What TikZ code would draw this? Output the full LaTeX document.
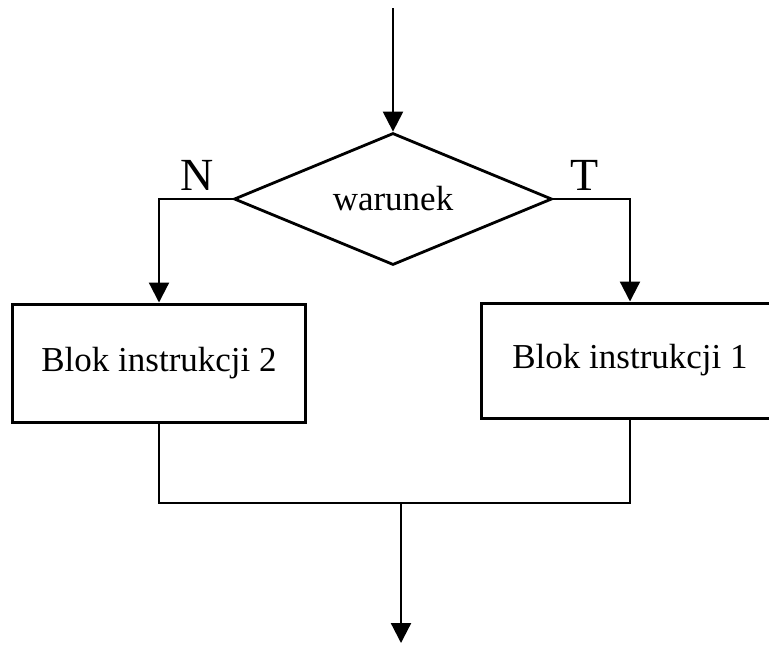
\documentclass[tikz,border=0pt]{standalone}
\usepackage{fontspec}
\setmainfont{Liberation Serif}
\usetikzlibrary{shapes.geometric,arrows.meta}

\begin{document}
\begin{tikzpicture}[x=0.5pt,y=-0.5pt,
		blok/.style={draw,line width=1.5pt,minimum height=59pt,inner sep=0pt,font=\fontsize{17.5}{20}\selectfont},
		decyzja/.style={draw,diamond,aspect=2.4,line width=1.4pt,inner sep=0pt,minimum width=159pt,minimum height=66pt,font=\fontsize{17.5}{20}\selectfont},
		etykieta/.style={anchor=base,inner sep=0pt,font=\fontsize{23}{26}\selectfont},
		linia/.style={line width=1.1pt},
		strzalka/.style={line width=1.1pt,-{Triangle[length=10pt,width=10pt]}}]
		\useasboundingbox (0,0) rectangle (769,645);

		\coordinate (start) at (393,8);
		\node[decyzja] (war) at (393,199) {warunek};
		\node[etykieta] (nie) at (197,190) {N};
		\node[etykieta] (tak) at (585,190) {T};

		\node[blok,minimum width=146.5pt] (blok2) at (159,363) {Blok instrukcji 2};
		\node[blok,minimum width=149pt,minimum height=57.5pt] (blok1) at (630,360.5) {Blok instrukcji 1};

		\coordinate (zbieg) at (401,503);
		\coordinate (koniec) at (401,643);

		\draw[strzalka] (start) -- (war.north);
		\draw[strzalka] (war.west) -| (blok2.north);
		\draw[strzalka] (war.east) -| (blok1.north);

		% polaczenie obu galezi
		\draw[linia] (blok2.south) -- (blok2.south |- zbieg) -- (blok1.south |- zbieg) -- (blok1.south);
		\draw[strzalka] (zbieg) -- (koniec);
	\end{tikzpicture}
\end{document}
